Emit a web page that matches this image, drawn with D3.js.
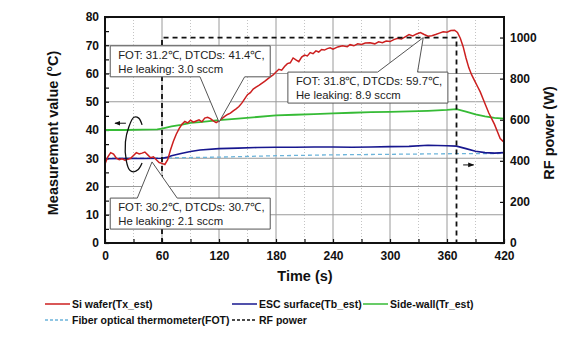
<!DOCTYPE html>
<html>
<head>
<meta charset="utf-8">
<script src="https://cdn.jsdelivr.net/npm/d3@7"></script>
<style>
  body { margin: 0; background: #fff; }
  svg { font-family: "Liberation Sans", Arial, sans-serif; }
  .rotulo-eixo { font-weight: bold; font-size: 12px; fill: #111; }
  .titulo-eixo { font-weight: bold; font-size: 14.5px; fill: #111; text-anchor: middle; }
  .legenda { font-weight: bold; font-size: 10.5px; fill: #111; }
  .caixa-texto { font-size: 11.3px; fill: #222; }
</style>
</head>
<body>
<svg id="grafico"></svg>
<script>
// dados
const tempoSi = [0,3,6,9,12,15,18,21,24,27,30,33,36,39,42,45,48,51,54,57,60,63,66,69,72,75,78,81,84,87,90,93,96,99,102,105,108,111,114,117,120,123,126,129,132,135,138,141,144,147,150,153,156,159,162,165,168,171,174,177,180,183,186,189,192,195,198,201,204,207,210,213,216,219,222,225,228,231,234,237,240,245,250,255,258,262,266,270,274,279,284,288,292,296,300,304,308,312,316,320,324,328,332,336,340,344,348,352,356,360,364,368,371,374,377,380,383,386,389,392,395,398,401,404,407,410,413,416,419,420];
const valorSi = [28,30.5,32,31.5,30,29.5,29.8,29.3,29.6,30,31,32,31.5,31.8,32.2,31.2,30.2,30.5,29.5,28.5,28.2,27.8,29.5,33,36,38.5,40.5,42,43,42.5,43.5,42.8,43.2,43.6,42.9,44.2,44.5,44,43.2,42.6,43.2,44,44.8,45.5,46,46.8,47.5,48.3,49.5,51,52.5,53.2,54.5,55.2,55.8,56.5,57.2,58,58.8,59.5,60.5,61.5,61.2,62.5,63.5,63.8,65.5,64.8,64.2,65.8,66.5,66.2,67.4,67,68,67.6,68.5,68.3,68.8,69.1,68.6,69.4,69.8,69.5,70.2,69.8,70.5,70.3,70.8,70.9,70.5,71.2,70.9,71.5,71.3,72,72.5,72.2,73,73.8,73.3,74,74.5,73.8,73.2,73.4,73.8,74.3,74.8,74.6,75.2,75.3,74.5,72.5,69.5,65.5,62,59.5,57.5,55.5,53.5,51,48.5,46,44,42,39.5,37,36,35.8];

const tempoEsc = [0,20,40,60,65,70,80,90,100,120,140,160,180,200,220,240,260,280,300,320,340,350,360,370,380,390,400,410,420];
const valorEsc = [29.8,29.9,29.9,30,30.3,30.9,31.7,32.4,32.9,33.4,33.6,33.8,33.9,33.9,34,34,33.9,34,34.1,34.2,34.6,34.5,34.4,34.3,33.4,32.5,32,31.8,32];

const tempoParede = [0,20,40,55,60,70,80,90,100,120,140,160,180,200,220,240,260,280,300,320,340,360,370,380,390,400,410,420];
const valorParede = [40,40,40.1,40.2,40.5,41.3,41.8,42.5,42.8,43.5,44,44.6,45.2,45.4,45.6,45.9,46.1,46.3,46.4,46.6,46.8,47.1,47.4,46.5,45.5,44.8,44.3,44];

const tempoFot = [0,60,120,180,240,300,360,420];
const valorFot = [30,30.1,30.4,30.9,31.2,31.4,31.6,31.7];

const tempoRf = [60,60,370,370];
const potenciaRf = [0,1000,1000,0];

const ticksTempo = d3.range(0, 421, 30);
const ticksTemperatura = d3.range(0, 81, 5);
const ticksPotencia = [0, 200, 400, 600, 800, 1000];

const nomesSeries = ['Si wafer(Tx_est)', 'ESC surface(Tb_est)', 'Side-wall(Tr_est)', 'Fiber optical thermometer(FOT)', 'RF power'];

// caixas de anotação: ponta em (tempo, valor), canto da caixa em (tempo, valor)
const anotacoes = [
  { linhas: ['FOT: 31.2\u2103, DTCDs: 41.4\u2103,', 'He leaking: 3.0 sccm'], ponta: [120, 42.8], canto: [5.5, 69.8], base: [100, 147], lado: 'baixo' },
  { linhas: ['FOT: 31.8\u2103, DTCDs: 59.7\u2103,', 'He leaking: 8.9 sccm'], ponta: [335, 72.7], canto: [192.5, 60.5], base: [287, 329], lado: 'cima' },
  { linhas: ['FOT: 30.2\u2103, DTCDs: 30.7\u2103,', 'He leaking: 2.1 sccm'], ponta: [49.5, 28.7], canto: [5.5, 15.9], base: [34, 76], lado: 'cima' }
];
const laco = [[39,41.8],[35.5,44.2],[30.5,44.5],[25,41],[21.5,35.8],[22.5,29],[26,25.8],[30,25.2],[35,26],[39,28.3]];

const largura = 588, altura = 350;
const margem = { esquerda: 105, direita: 84, superior: 17, inferior: 107 };
const larguraPlotagem = largura - margem.esquerda - margem.direita;
const alturaPlotagem = altura - margem.superior - margem.inferior;

const svg = d3.select('#grafico').attr('width', largura).attr('height', altura);
const defs = svg.append('defs');
defs.append('marker').attr('id', 'seta')
    .attr('viewBox', '0 0 10 10').attr('refX', 9).attr('refY', 5)
    .attr('markerWidth', 6).attr('markerHeight', 6).attr('orient', 'auto')
  .append('path').attr('d', 'M0,1 L10,5 L0,9 Z').attr('fill', '#111');

const plotagem = svg.append('g').attr('transform', `translate(${margem.esquerda}, ${margem.superior})`);

// escalas
const x = d3.scaleLinear().domain([0, 420]).range([0, larguraPlotagem]);
const y = d3.scaleLinear().domain([0, 80]).range([alturaPlotagem, 0]);
const y2 = d3.scaleLinear().domain([0, 1100]).range([alturaPlotagem, 0]);

// grade
plotagem.append('g').selectAll('line').data(d3.range(10, 80, 10)).join('line')
    .attr('x1', 0).attr('x2', larguraPlotagem).attr('y1', d => y(d)).attr('y2', d => y(d))
    .attr('stroke', '#9a9a9a').attr('stroke-width', 1);
plotagem.append('g').selectAll('line').data(ticksTempo.filter(d => d > 0 && d < 420)).join('line')
    .attr('x1', d => x(d)).attr('x2', d => x(d)).attr('y1', 0).attr('y2', alturaPlotagem)
    .attr('stroke', d => d % 60 === 0 ? '#9a9a9a' : '#c4c4c4')
    .attr('stroke-dasharray', d => d % 60 === 0 ? null : '1,2')
    .attr('stroke-width', 1);

// eixos
const eixoY = plotagem.append('g')
    .call(d3.axisLeft(y).tickValues(ticksTemperatura).tickSize(-4).tickPadding(6).tickFormat(d => d % 10 === 0 ? d : ''));
const eixoX = plotagem.append('g').attr('transform', `translate(0, ${alturaPlotagem})`)
    .call(d3.axisBottom(x).tickValues(ticksTempo).tickSize(-4).tickPadding(8).tickFormat(d => d % 60 === 0 ? d : ''));
const eixoY2 = plotagem.append('g').attr('transform', `translate(${larguraPlotagem}, 0)`)
    .call(d3.axisRight(y2).tickValues(ticksPotencia).tickSize(-4).tickPadding(6).tickFormat(d3.format('d')));
[eixoY, eixoX, eixoY2].forEach(e => {
  e.select('.domain').remove();
  e.selectAll('line').attr('stroke', '#111').attr('stroke-width', 1.2);
  e.selectAll('text').attr('class', 'rotulo-eixo').attr('font-family', null).attr('font-size', null);
});

// linhas das séries
const linha = (ts, vs, escala) => d3.line()(ts.map((t, i) => [x(t), escala(vs[i])]));
plotagem.append('path').attr('d', linha(tempoFot, valorFot, y))
    .attr('fill', 'none').attr('stroke', '#6cb4da').attr('stroke-width', 1.3).attr('stroke-dasharray', '4,3');
plotagem.append('path').attr('d', linha(tempoEsc, valorEsc, y))
    .attr('fill', 'none').attr('stroke', '#17178f').attr('stroke-width', 1.6);
plotagem.append('path').attr('d', linha(tempoParede, valorParede, y))
    .attr('fill', 'none').attr('stroke', '#36bb36').attr('stroke-width', 1.8);
plotagem.append('path').attr('d', linha(tempoSi, valorSi, y))
    .attr('fill', 'none').attr('stroke', '#cc1f1f').attr('stroke-width', 1.5);
plotagem.append('path').attr('d', linha(tempoRf, potenciaRf, y2))
    .attr('fill', 'none').attr('stroke', '#111').attr('stroke-width', 1.8).attr('stroke-dasharray', '5,4');

// moldura
plotagem.append('rect').attr('width', larguraPlotagem).attr('height', alturaPlotagem)
    .attr('fill', 'none').attr('stroke', '#111').attr('stroke-width', 2);

// caixas de anotação com ponteiro
anotacoes.forEach(a => {
  const esq = x(a.canto[0]), topo = y(a.canto[1]), dir = esq + 160, fundo = topo + 31;
  const px = x(a.ponta[0]), py = y(a.ponta[1]);
  const b0 = x(a.base[0]) , b1 = x(a.base[1]);
  const d = a.lado === 'baixo'
    ? `M${esq},${topo} H${dir} V${fundo} H${b1} L${px},${py} L${b0},${fundo} H${esq} Z`
    : `M${esq},${topo} H${b0} L${px},${py} L${b1},${topo} H${dir} V${fundo} H${esq} Z`;
  plotagem.append('path').attr('d', d).attr('fill', '#fff').attr('stroke', '#555').attr('stroke-width', 1);
  a.linhas.forEach((t, i) => {
    plotagem.append('text').attr('class', 'caixa-texto')
        .attr('x', esq + 8).attr('y', topo + 13 + i * 14).text(t);
  });
});

// laço e setas indicando os eixos
plotagem.append('path').attr('d', d3.line().curve(d3.curveCatmullRom)(laco.map(p => [x(p[0]), y(p[1])])))
    .attr('fill', 'none').attr('stroke', '#111').attr('stroke-width', 1.3);
plotagem.append('line').attr('x1', x(22)).attr('x2', x(10.5)).attr('y1', y(42.4)).attr('y2', y(42.4))
    .attr('stroke', '#111').attr('stroke-width', 1).attr('marker-end', 'url(#seta)');
plotagem.append('line').attr('x1', x(377)).attr('x2', x(388)).attr('y1', y2(380)).attr('y2', y2(380))
    .attr('stroke', '#111').attr('stroke-width', 1).attr('marker-end', 'url(#seta)');

// títulos dos eixos
svg.append('text').attr('class', 'titulo-eixo')
    .attr('transform', `translate(58, ${margem.superior + alturaPlotagem / 2 + 3}) rotate(-90)`)
    .text('Measurement value (\u00b0C)');
svg.append('text').attr('class', 'titulo-eixo')
    .attr('transform', `translate(554, ${margem.superior + alturaPlotagem / 2 + 3}) rotate(-90)`)
    .text('RF power (W)');
svg.append('text').attr('class', 'titulo-eixo')
    .attr('x', 305).attr('y', 281).text('Time (s)');

// legenda
const estilos = [
  { cor: '#cc1f1f', traco: null, col: 0, lin: 0 },
  { cor: '#17178f', traco: null, col: 1, lin: 0 },
  { cor: '#36bb36', traco: null, col: 2, lin: 0 },
  { cor: '#6cb4da', traco: '3,2', col: 0, lin: 1 },
  { cor: '#111', traco: '3,2', col: 1, lin: 1 }
];
const colunas = [45, 232, 363];
const legenda = svg.append('g');
nomesSeries.forEach((nome, i) => {
  const e = estilos[i];
  const lx = colunas[e.col], ly = 304 + e.lin * 16;
  legenda.append('line').attr('x1', lx).attr('x2', lx + 25).attr('y1', ly).attr('y2', ly)
      .attr('stroke', e.cor).attr('stroke-width', 1.5).attr('stroke-dasharray', e.traco);
  legenda.append('text').attr('class', 'legenda').attr('x', lx + 27).attr('y', ly + 4).text(nome);
});
</script>
</body>
</html>
